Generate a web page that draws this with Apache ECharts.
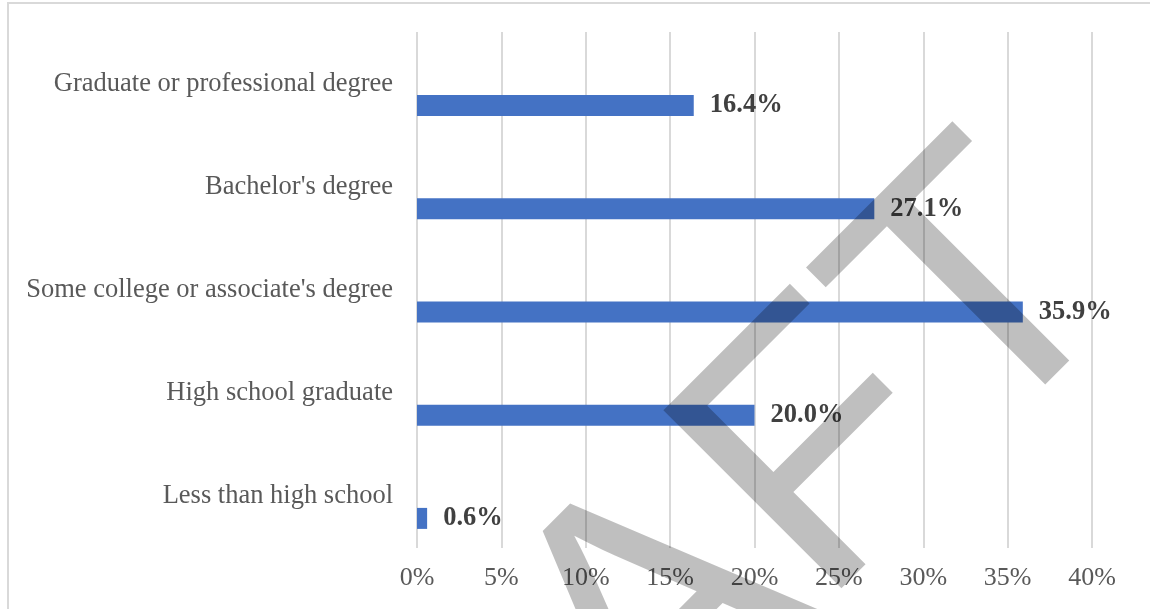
<!DOCTYPE html>
<html>
<head>
<meta charset="utf-8">
<title>Educational attainment</title>
<script src="https://cdn.jsdelivr.net/npm/echarts@6/dist/echarts.min.js"></script>
<style>
  html, body { margin: 0; padding: 0; background: #ffffff; }
  #chart { width: 1150px; height: 609px; }
</style>
</head>
<body>
<div id="chart"></div>
<script>
// Educational attainment, share of population (%), listed bottom to top
const categories = [
  'Less than high school',
  'High school graduate',
  "Some college or associate's degree",
  "Bachelor's degree",
  'Graduate or professional degree'
];
const shares = [0.6, 20.0, 35.9, 27.1, 16.4];

// Percent axis range
const axisMin = 0;
const axisMax = 40;
const axisStep = 5;

const serif = '"Liberation Serif", "Times New Roman", serif';

const chart = echarts.init(document.getElementById('chart'), null, { renderer: 'canvas' });

chart.setOption({
  animation: false,
  backgroundColor: '#ffffff',
  grid: { left: 417, right: 58, top: 32, bottom: 61, containLabel: false },
  xAxis: {
    type: 'value',
    min: axisMin,
    max: axisMax,
    interval: axisStep,
    axisLine: { show: false },
    axisTick: { show: false },
    splitLine: { show: true, lineStyle: { color: '#d9d9d9', width: 2 } },
    axisLabel: {
      formatter: '{value}%',
      color: '#595959',
      fontFamily: serif,
      fontSize: 26,
      margin: 17
    }
  },
  yAxis: {
    type: 'category',
    data: categories,
    axisLine: { show: false },
    axisTick: { show: false },
    splitLine: { show: false },
    axisLabel: {
      color: '#595959',
      fontFamily: serif,
      fontSize: 26.5,
      margin: 24
    }
  },
  series: [
    {
      // empty companion series: keeps the bars below each category caption
      name: 'spacer',
      type: 'bar',
      silent: true,
      barWidth: 21,
      barGap: '109.5%',
      data: categories.map(() => null)
    },
    {
      name: 'Share',
      type: 'bar',
      barWidth: 21,
      barGap: '109.5%',
      itemStyle: { color: '#4472c4' },
      label: {
        show: true,
        position: 'right',
        distance: 16,
        color: '#404040',
        fontFamily: serif,
        fontSize: 26.5,
        fontWeight: 'bold',
        formatter: (p) => p.value.toFixed(1) + '%'
      },
      data: shares
    }
  ],
  graphic: [
    {
      // chart area frame
      type: 'rect',
      silent: true,
      z: 0,
      shape: { x: 8, y: 3, width: 1400, height: 900 },
      style: { fill: 'none', stroke: '#d9d9d9', lineWidth: 2 }
    },
    {
      // DRAFT stamp across the plot
      type: 'text',
      silent: true,
      z: 100,
      x: 1065,
      y: 222,
      rotation: Math.PI / 4,
      style: {
        text: 'DRAFT',
        align: 'right',
        verticalAlign: 'middle',
        font: '366px "Liberation Sans", Arial, sans-serif',
        fill: 'rgba(0,0,0,0.25)'
      }
    }
  ]
});
</script>
</body>
</html>
